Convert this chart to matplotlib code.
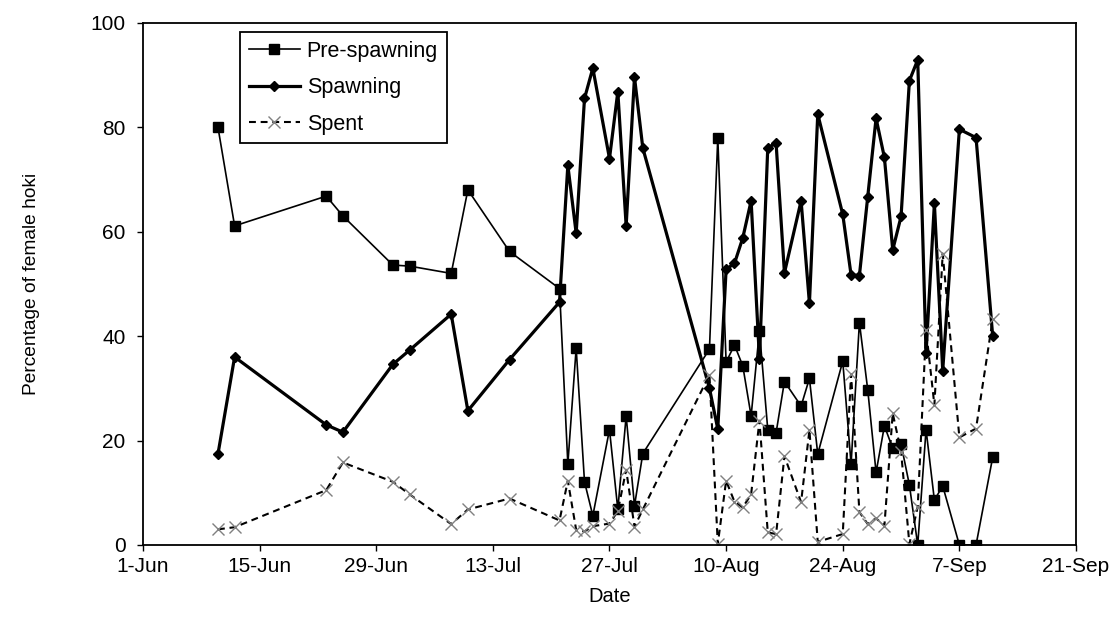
import numpy as np
import pandas as pd
import matplotlib
matplotlib.use("Agg")
import matplotlib.pyplot as plt

plt.rcParams['font.family'] = ['Liberation Sans', 'DejaVu Sans']

# sampling dates (month-day) and percentage of female hoki in each stage
sample_dates = ['06-10', '06-12', '06-23', '06-25', '07-01', '07-03', '07-08', '07-10',
                '07-15', '07-21', '07-22', '07-23', '07-24', '07-25', '07-27', '07-28',
                '07-29', '07-30', '07-31', '08-08', '08-09', '08-10', '08-11', '08-12',
                '08-13', '08-14', '08-15', '08-16', '08-17', '08-19', '08-20', '08-21',
                '08-24', '08-25', '08-26', '08-27', '08-28', '08-29', '08-30', '08-31',
                '09-01', '09-02', '09-03', '09-04', '09-05', '09-07', '09-09', '09-11']

pre_spawning = [80, 61.1, 66.8, 63, 53.6, 53.4, 52, 68, 56.2, 49.1, 15.5, 37.7,
                12.1, 5.6, 22.1, 6.8, 24.7, 7.5, 17.5, 37.5, 78, 35, 38.3, 34.3,
                24.7, 41, 22.1, 21.5, 31.3, 26.6, 31.9, 17.4, 35.2, 15.5, 42.6, 29.7,
                13.9, 22.8, 18.5, 19.3, 11.5, 0, 22.1, 8.6, 11.3, 0, 0, 16.8]

spawning = [17.4, 36, 23, 21.6, 34.6, 37.3, 44.2, 25.7, 35.5, 46.5, 72.7, 59.7,
            85.5, 91.3, 74, 86.8, 61.1, 89.6, 76, 30, 22.2, 52.8, 53.9, 58.8,
            65.9, 35.7, 76.1, 76.9, 52.1, 65.9, 46.3, 82.5, 63.3, 51.7, 51.6, 66.7,
            81.7, 74.2, 56.5, 62.9, 88.9, 92.9, 36.7, 65.4, 33.4, 79.6, 78, 40]

spent = [3, 3.4, 10.5, 15.8, 12.1, 9.7, 4, 6.8, 8.9, 4.7, 12.3, 2.9,
         2.6, 3.6, 4.1, 6.5, 14.4, 3.5, 6.8, 32.6, 0.2, 12.3, 8.3, 7.2,
         9.7, 23.8, 2.4, 2.1, 17, 8.2, 22, 0.6, 2.1, 32.7, 6.3, 4,
         5.1, 3.7, 25.2, 17.9, 0.2, 7.3, 41.2, 26.8, 55.8, 20.6, 22.3, 43.2]

tick_dates = ['06-01', '06-15', '06-29', '07-13', '07-27', '08-10', '08-24', '09-07', '09-21']
tick_labels = ['1-Jun', '15-Jun', '29-Jun', '13-Jul', '27-Jul', '10-Aug', '24-Aug', '7-Sep', '21-Sep']

year = '2007-'
dates = pd.to_datetime([year + d for d in sample_dates])
ticks = pd.to_datetime([year + d for d in tick_dates])

fig = plt.figure(figsize=(11.17, 6.21), dpi=100)
ax = fig.add_axes([0.128, 0.1224, 0.8353, 0.841])

ax.plot(dates, pre_spawning, color='black', lw=1.2, marker='s', ms=6.8,
        mfc='black', mec='black', label='Pre-spawning')
ax.plot(dates, spawning, color='black', lw=2.3, marker='D', ms=5.3,
        mfc='black', mec='black', label='Spawning')
ax.plot(dates, spent, color='black', lw=1.5, ls=(0, (3.3, 2.3)), marker='x', ms=8.5,
        mec='#808080', mew=1.0, label='Spent')

ax.set_xlim(ticks[0], ticks[-1])
ax.set_ylim(0, 100)
ax.set_xticks(ticks)
ax.set_xticklabels(tick_labels)
ax.set_yticks(np.arange(0, 101, 20))

ax.tick_params(direction='out', length=4, width=1, labelsize=15, color='black')
ax.tick_params(axis='x', pad=4.5)
ax.tick_params(axis='y', pad=8.5)
for s in ax.spines.values():
    s.set_linewidth(1.3)
    s.set_color('black')

ax.set_xlabel('Date', fontsize=14.5, labelpad=8)
ax.set_ylabel('Percentage of female hoki', fontsize=13.8, labelpad=36)

leg = ax.legend(loc='upper left', bbox_to_anchor=(0.104, 0.982), borderaxespad=0,
                fontsize=15.5, frameon=True, fancybox=False, framealpha=1,
                edgecolor='black', handlelength=2.4, handletextpad=0.3,
                labelspacing=0.72, borderpad=0.4)
leg.get_frame().set_linewidth(1.3)

fig.savefig('out.png', dpi=100)
